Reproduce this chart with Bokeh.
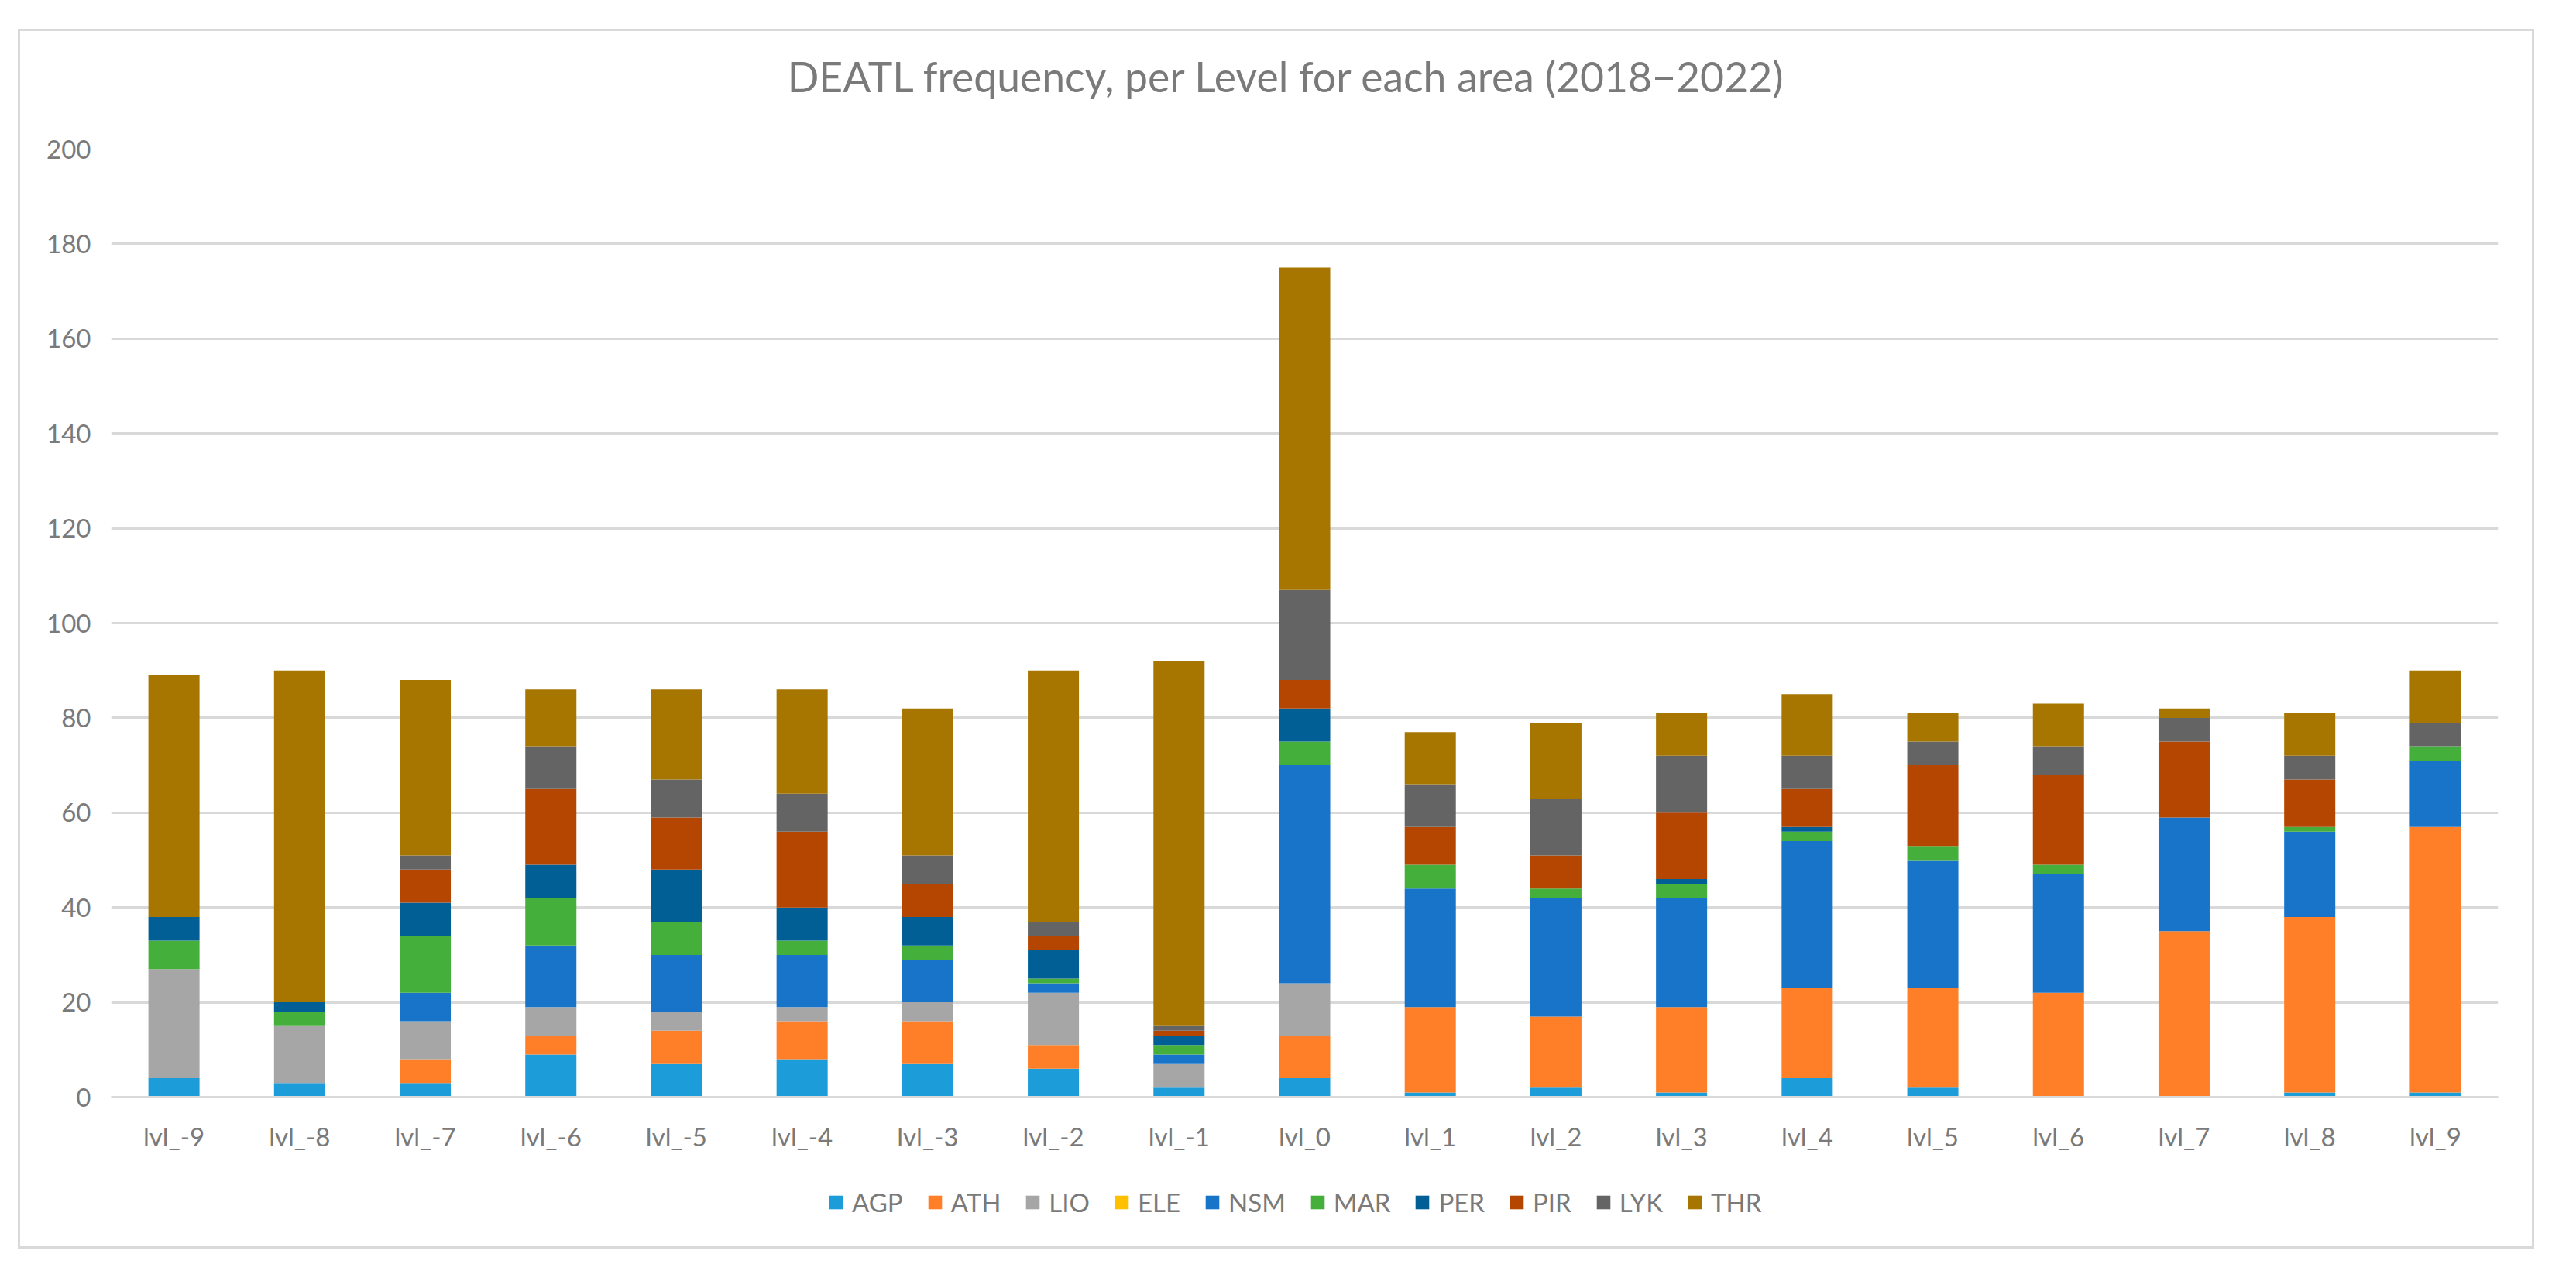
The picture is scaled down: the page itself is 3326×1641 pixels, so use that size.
from bokeh.plotting import figure
from bokeh.models import (ColumnDataSource, FactorRange, Range1d, SingleIntervalTicker, Legend, Label)
from bokeh.layouts import column
from bokeh.embed import file_html
from bokeh.resources import INLINE

# ---------------- data ----------------
levels = ["lvl_-9", "lvl_-8", "lvl_-7", "lvl_-6", "lvl_-5", "lvl_-4", "lvl_-3", "lvl_-2", "lvl_-1",
          "lvl_0", "lvl_1", "lvl_2", "lvl_3", "lvl_4", "lvl_5", "lvl_6", "lvl_7", "lvl_8", "lvl_9"]
areas = ["AGP", "ATH", "LIO", "ELE", "NSM", "MAR", "PER", "PIR", "LYK", "THR"]

AGP = [4, 3, 3, 9, 7, 8, 7, 6, 2, 4, 1, 2, 1, 4, 2, 0, 0, 1, 1]
ATH = [0, 0, 5, 4, 7, 8, 9, 5, 0, 9, 18, 15, 18, 19, 21, 22, 35, 37, 56]
LIO = [23, 12, 8, 6, 4, 3, 4, 11, 5, 11, 0, 0, 0, 0, 0, 0, 0, 0, 0]
ELE = [0, 0, 0, 0, 0, 0, 0, 0, 0, 0, 0, 0, 0, 0, 0, 0, 0, 0, 0]
NSM = [0, 0, 6, 13, 12, 11, 9, 2, 2, 46, 25, 25, 23, 31, 27, 25, 24, 18, 14]
MAR = [6, 3, 12, 10, 7, 3, 3, 1, 2, 5, 5, 2, 3, 2, 3, 2, 0, 1, 3]
PER = [5, 2, 7, 7, 11, 7, 6, 6, 2, 7, 0, 0, 1, 1, 0, 0, 0, 0, 0]
PIR = [0, 0, 7, 16, 11, 16, 7, 3, 1, 6, 8, 7, 14, 8, 17, 19, 16, 10, 0]
LYK = [0, 0, 3, 9, 8, 8, 6, 3, 1, 19, 9, 12, 12, 7, 5, 6, 5, 5, 5]
THR = [51, 70, 37, 12, 19, 22, 31, 53, 77, 68, 11, 16, 9, 13, 6, 9, 2, 9, 11]

y_ticks_interval = 20
y_max = 200
title_text = "DEATL frequency, per Level for each area (2018\u22122022)"

colors = ["#1c9dd9", "#fe7f27", "#a6a6a6", "#ffc000", "#1874c9",
          "#44af3b", "#015f95", "#b54602", "#646464", "#a77600"]

# ---------------- styling ----------------
FONT = "Lato"
TXT = "#7a7a7a"
GRID = "#d9d9d9"
W = 3243


def strip(height, x_range, y_range):
    f = figure(width=W, height=height, x_range=x_range, y_range=y_range,
               output_backend="svg", toolbar_location=None, x_axis_type=None, y_axis_type=None,
               min_border_left=0, min_border_right=0, min_border_top=0, min_border_bottom=0)
    f.outline_line_color = None
    f.xgrid.grid_line_color = None
    f.ygrid.grid_line_color = None
    f.background_fill_color = "white"
    f.border_fill_color = "white"
    return f


source = ColumnDataSource(dict(level=levels, AGP=AGP, ATH=ATH, LIO=LIO, ELE=ELE, NSM=NSM,
                               MAR=MAR, PER=PER, PIR=PIR, LYK=LYK, THR=THR))

# ---------------- title strip ----------------
tf = strip(122, Range1d(0, 1), Range1d(0, 1))
tf.add_layout(Label(x=1518, y=65, x_units="screen", y_units="screen", text=title_text,
                    text_align="center", text_baseline="alphabetic", text_font=FONT,
                    text_font_size="53.5px", text_color=TXT))

# ---------------- main chart ----------------
p = figure(width=W, height=1338, x_range=FactorRange(factors=levels),
           y_range=Range1d(0, y_max), output_backend="svg", toolbar_location=None,
           min_border_left=117, min_border_right=44, min_border_top=30, min_border_bottom=84)
p.outline_line_color = None
p.background_fill_color = "white"
p.border_fill_color = "white"

renderers = p.vbar_stack(areas, x="level", width=0.407, color=colors, line_color=None,
                         source=source)

p.yaxis.ticker = SingleIntervalTicker(interval=y_ticks_interval)
p.ygrid.ticker = SingleIntervalTicker(interval=y_ticks_interval)
p.ygrid.grid_line_color = GRID
p.ygrid.grid_line_width = 3
p.xgrid.grid_line_color = None

p.yaxis.axis_line_color = None
p.yaxis.major_tick_line_color = None
p.yaxis.minor_tick_line_color = None
p.yaxis.major_tick_out = 0
p.yaxis.major_tick_in = 0
p.yaxis.major_label_standoff = 22
p.yaxis.major_label_text_font = FONT
p.yaxis.major_label_text_font_size = "33px"
p.yaxis.major_label_text_color = TXT

p.xaxis.axis_line_color = GRID
p.xaxis.axis_line_width = 3
p.xaxis.major_tick_line_color = None
p.xaxis.minor_tick_line_color = None
p.xaxis.major_tick_out = 0
p.xaxis.major_tick_in = 0
p.xaxis.major_label_standoff = 30
p.xaxis.major_label_text_font = FONT
p.xaxis.major_label_text_font_size = "33px"
p.xaxis.major_label_text_color = TXT

# ---------------- legend strip ----------------
# same stacked bars, but the strip's y-range lies far above the data, so only the legend shows
lf = strip(109, FactorRange(factors=levels), Range1d(1000, 1001))
legend_renderers = lf.vbar_stack(areas, x="level", width=0.407, color=colors, line_color=None,
                                 source=source)
legend = Legend(items=[(a, [r]) for a, r in zip(areas, legend_renderers)],
                location=(925, 37), orientation="horizontal",
                glyph_width=22, glyph_height=22, label_standoff=10, spacing=30,
                padding=0, margin=0, label_text_font=FONT, label_text_font_size="33px",
                label_text_color=TXT, border_line_color=None, background_fill_alpha=0)
lf.add_layout(legend, "center")

layout = column(tf, p, lf, spacing=0, margin=(37, 0, 0, 23),
                styles={"border": "3px solid #d9d9d9"})

open("out.html", "w").write(file_html(layout, INLINE))
